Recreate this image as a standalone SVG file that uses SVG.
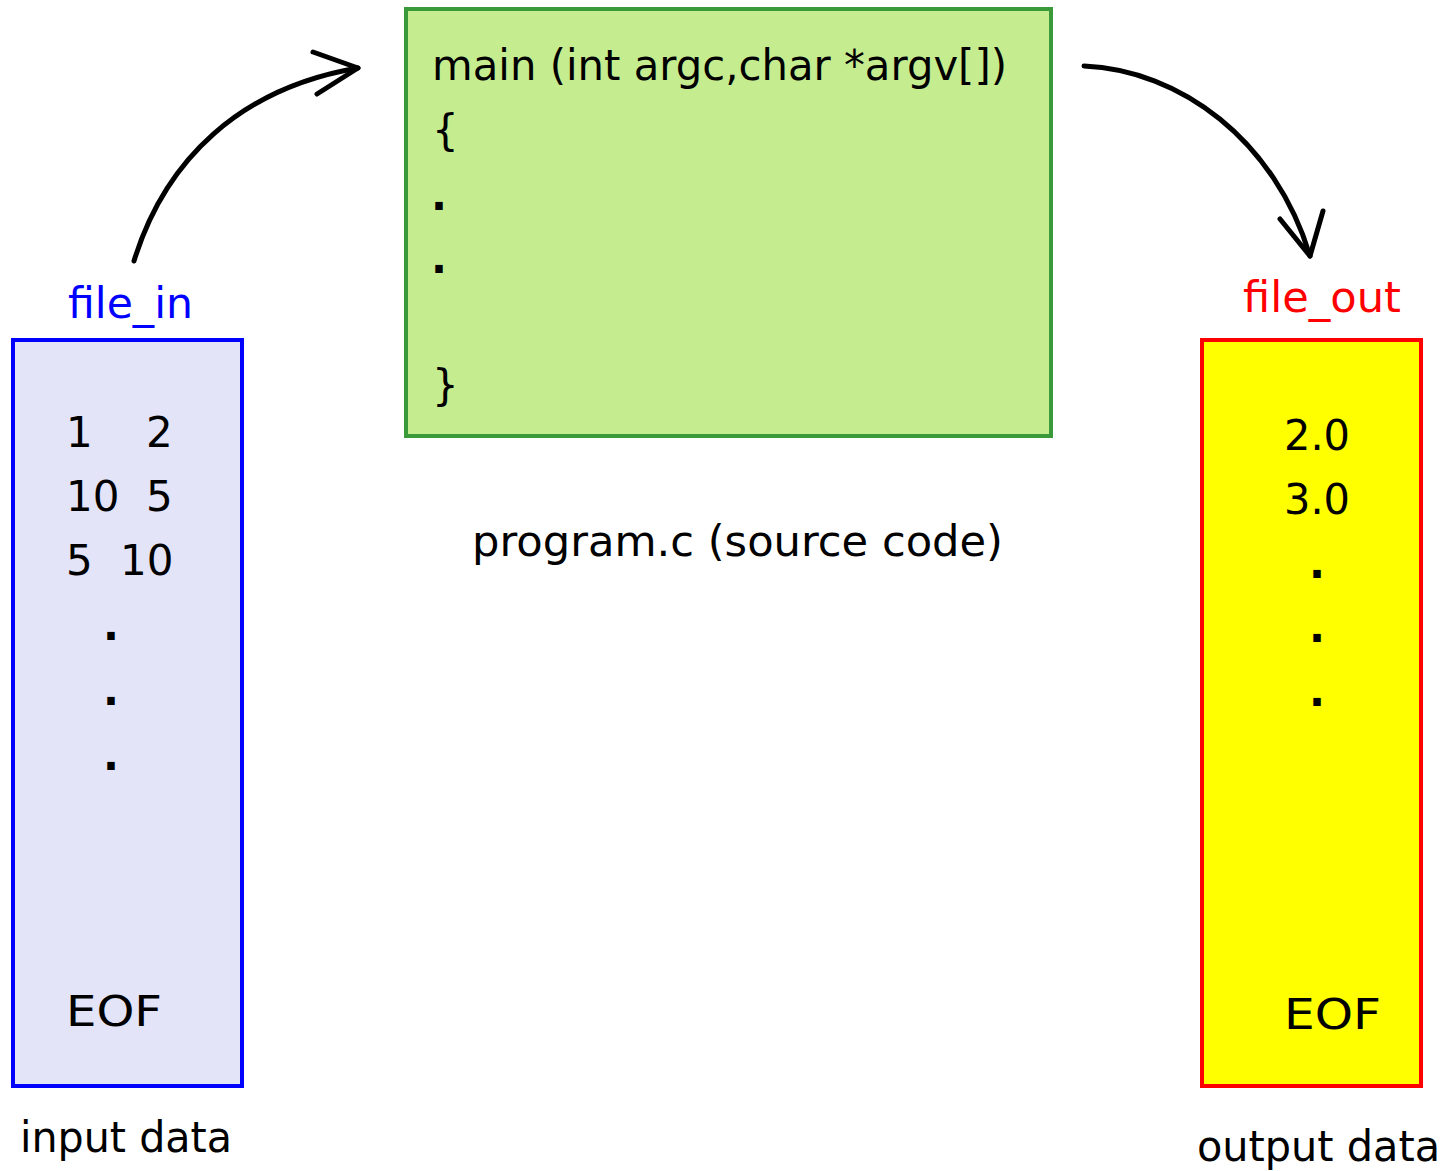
<svg xmlns="http://www.w3.org/2000/svg" width="1446" height="1171" viewBox="0 0 1446 1171">
<style>
text{font-family:"DejaVu Sans","Liberation Sans",sans-serif;font-size:42px;fill:#000}
.dot{font-weight:bold}
.box{stroke-width:4}
.arr{fill:none;stroke:#000;stroke-width:5;stroke-linecap:round;stroke-linejoin:round}
</style>
<rect width="1446" height="1171" fill="#fff"/>
<g id="file_in">
<rect class="box" x="13" y="340" width="229" height="746" fill="#e3e4f8" stroke="#0000ff"/>
<text x="68" y="318" style="fill:#0000ff" textLength="125" lengthAdjust="spacingAndGlyphs">file_in</text>
<text x="66" y="447">1</text><text x="146" y="447">2</text>
<text x="66" y="511">10</text><text x="146" y="511">5</text>
<text x="66" y="575">5</text><text x="120" y="575">10</text>
<text class="dot" x="103" y="640">.</text><text class="dot" x="103" y="705">.</text><text class="dot" x="103" y="770">.</text>
<text x="66" y="1026" textLength="96" lengthAdjust="spacingAndGlyphs">EOF</text>
<text x="20" y="1152" textLength="212" lengthAdjust="spacingAndGlyphs">input data</text>
</g>
<g id="program">
<rect class="box" x="406" y="9" width="645" height="427" fill="#c5ed90" stroke="#3a9a3a"/>
<text x="432" y="80" textLength="575" lengthAdjust="spacingAndGlyphs">main (int argc,char *argv[])</text>
<text x="432" y="145">{</text>
<text class="dot" x="431" y="210">.</text>
<text class="dot" x="431" y="273">.</text>
<text x="432" y="400">}</text>
<text x="472" y="556" textLength="531" lengthAdjust="spacingAndGlyphs">program.c (source code)</text>
</g>
<g id="file_out">
<rect class="box" x="1202" y="340" width="219" height="746" fill="#ffff00" stroke="#ff0000"/>
<text x="1243" y="312" style="fill:#ff0000" textLength="158" lengthAdjust="spacingAndGlyphs">file_out</text>
<text x="1284" y="450" textLength="66" lengthAdjust="spacingAndGlyphs">2.0</text>
<text x="1284" y="514" textLength="66" lengthAdjust="spacingAndGlyphs">3.0</text>
<text class="dot" x="1309" y="578">.</text><text class="dot" x="1309" y="642">.</text><text class="dot" x="1309" y="706">.</text>
<text x="1284" y="1029" textLength="97" lengthAdjust="spacingAndGlyphs">EOF</text>
<text x="1197" y="1161" textLength="243" lengthAdjust="spacingAndGlyphs">output data</text>
</g>
<g id="connectors">
<path class="arr" d="M134,261 C165,160 240,88 358,68"/>
<path class="arr" d="M313,52 L358,68 L317,94"/>
<path class="arr" d="M1084,66 C1180,70 1275,140 1310,256"/>
<path class="arr" d="M1280,219 L1310,256 L1323,211"/>
</g>
</svg>
